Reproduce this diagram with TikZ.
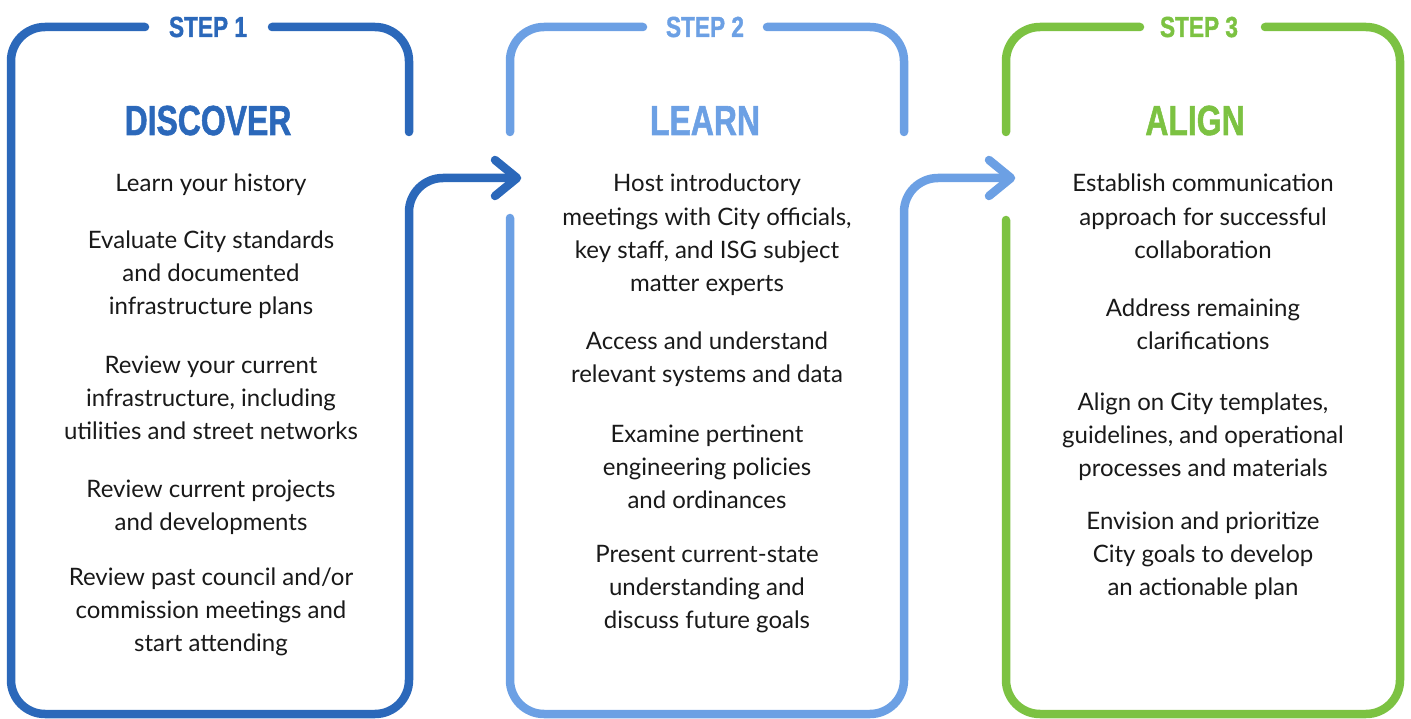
\documentclass[tikz,border=0pt]{standalone}
\usepackage{fontspec}
\setmainfont{Lato}
\newfontfamily\headfont{Liberation Sans}[BoldFeatures={FakeBold=1.5}]
\definecolor{cA}{RGB}{43,104,186}
\definecolor{cB}{RGB}{108,160,228}
\definecolor{cC}{RGB}{124,194,66}
\definecolor{ink}{RGB}{25,25,25}
\begin{document}
\begin{tikzpicture}[x=1pt,y=-1pt,
  frame/.style={line width=8.5pt, rounded corners=34pt, line cap=round},
  tip/.style={line width=8.5pt, line cap=round, line join=round},
  body/.style={font=\fontsize{24}{33.3}\selectfont, text=ink, align=center, anchor=base, inner sep=0pt},
  steplabel/.style={font=\headfont\bfseries\fontsize{29}{29}\selectfont, anchor=base, inner sep=0pt},
  title/.style={font=\headfont\bfseries\fontsize{42}{42}\selectfont, anchor=base, inner sep=0pt}]
\useasboundingbox (0,0) rectangle (1411,719);

% ---------- Panel 1 ----------
\draw[frame, cA] (145,27) -| (11,714) -| (409,178) -- (514,178);
\draw[frame, cA] (272,27) -| (409,132);
\draw[tip, cA] (495,160) -- (517,178) -- (495,196);
\node[steplabel, text=cA] (s1) at (208,37) {\scalebox{0.78}[1]{STEP 1}};
\node[title, text=cA] (t1) at (208,135) {\scalebox{0.76}[1]{DISCOVER}};
% anchor=base is the baseline of the last line
\node[body] (a1) at (211,192) {Learn your history};
\node[body] (a2) at (211,314.6) {Evaluate City standards\\and documented\\infrastructure plans};
\node[body] (a3) at (211,439.6) {Review your current\\infrastructure, including\\utilities and street networks};
\node[body] (a4) at (211,530.3) {Review current projects\\and developments};
\node[body] (a5) at (211,651.6) {Review past council and/or\\commission meetings and\\start attending};

% ---------- Panel 2 ----------
\draw[frame, cB] (643,27) -| (510,132);
\draw[frame, cB] (510,218) |- (904,714) -- (904,178) -- (1008,178);
\draw[frame, cB] (767,27) -| (904,132);
\draw[tip, cB] (989,160) -- (1011,178) -- (989,196);
\node[steplabel, text=cB] (s2) at (705,37) {\scalebox{0.78}[1]{STEP 2}};
\node[title, text=cB] (t2) at (705,135) {\scalebox{0.76}[1]{LEARN}};
\node[body] (b1) at (707,291.9) {Host introductory\\meetings with City officials,\\key staff, and ISG subject\\matter experts};
\node[body] (b2) at (707,382.3) {Access and understand\\relevant systems and data};
\node[body] (b3) at (707,508.6) {Examine pertinent\\engineering policies\\and ordinances};
\node[body] (b4) at (707,628.6) {Present current-state\\understanding and\\discuss future goals};

% ---------- Panel 3 ----------
\draw[frame, cC] (1140,27) -| (1006,132);
\draw[frame, cC] (1006,220) |- (1400,714) |- (1265,27);
\node[steplabel, text=cC] (s3) at (1199,37) {\scalebox{0.78}[1]{STEP 3}};
\node[title, text=cC] (t3) at (1195,135) {\scalebox{0.76}[1]{ALIGN}};
\node[body] (c1) at (1203,258.6) {Establish communication\\approach for successful\\collaboration};
\node[body] (c2) at (1203,349.3) {Address remaining\\clarifications};
\node[body] (c3) at (1203,476.6) {Align on City templates,\\guidelines, and operational\\processes and materials};
\node[body] (c4) at (1203,595.6) {Envision and prioritize\\City goals to develop\\an actionable plan};
\end{tikzpicture}
\end{document}
